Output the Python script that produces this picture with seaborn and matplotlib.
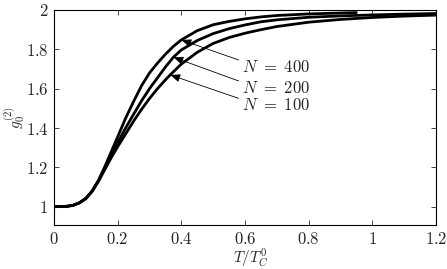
import numpy as np
import pandas as pd
import matplotlib
matplotlib.use('Agg')
import matplotlib.pyplot as plt
import seaborn as sns

# values
T_400 = [0.0, 0.04, 0.06, 0.08, 0.10, 0.12, 0.14, 0.16, 0.18, 0.20, 0.225, 0.25, 0.275,
         0.30, 0.325, 0.35, 0.375, 0.40, 0.45, 0.50, 0.55, 0.60, 0.65, 0.70, 0.80, 0.95]
g_400 = [1.0, 1.002, 1.007, 1.02, 1.042, 1.08, 1.135, 1.205, 1.28, 1.355, 1.45, 1.535, 1.615,
         1.68, 1.73, 1.775, 1.815, 1.848, 1.895, 1.925, 1.942, 1.955, 1.965, 1.972, 1.98, 1.987]

T_200 = [0.0, 0.04, 0.06, 0.08, 0.10, 0.12, 0.14, 0.16, 0.18, 0.20, 0.225, 0.25, 0.275,
         0.30, 0.325, 0.35, 0.375, 0.40, 0.45, 0.50, 0.55, 0.60, 0.65, 0.70, 0.80, 0.90,
         1.00, 1.10, 1.20]
g_200 = [1.0, 1.002, 1.007, 1.02, 1.042, 1.08, 1.133, 1.197, 1.262, 1.325, 1.40, 1.47, 1.538,
         1.60, 1.655, 1.71, 1.76, 1.797, 1.845, 1.88, 1.905, 1.924, 1.94, 1.95, 1.963, 1.97,
         1.975, 1.979, 1.982]

T_100 = [0.0, 0.04, 0.06, 0.08, 0.10, 0.12, 0.14, 0.16, 0.18, 0.20, 0.225, 0.25, 0.275,
         0.30, 0.325, 0.35, 0.365, 0.40, 0.45, 0.50, 0.55, 0.60, 0.65, 0.70, 0.80, 0.90,
         1.00, 1.10, 1.20]
g_100 = [1.0, 1.002, 1.007, 1.02, 1.041, 1.078, 1.13, 1.19, 1.25, 1.305, 1.37, 1.435, 1.495,
         1.55, 1.60, 1.645, 1.67, 1.725, 1.785, 1.83, 1.86, 1.882, 1.90, 1.916, 1.938, 1.952,
         1.962, 1.969, 1.974]

labels = [r'$N\ =\ 400$', r'$N\ =\ 200$', r'$N\ =\ 100$']
arrow_T = [0.40, 0.375, 0.365]
label_T = [0.59, 0.59, 0.59]
label_g = [1.71, 1.603, 1.515]

x_ticks = [0, 0.2, 0.4, 0.6, 0.8, 1, 1.2]
x_ticklabels = ['$0$', '$0.2$', '$0.4$', '$0.6$', '$0.8$', '$1$', '$1.2$']
y_ticks = [1, 1.2, 1.4, 1.6, 1.8, 2]
y_ticklabels = ['$1$', '$1.2$', '$1.4$', '$1.6$', '$1.8$', '$2$']

df = pd.concat([
    pd.DataFrame({'T': T_400, 'g': g_400, 'N': 400}),
    pd.DataFrame({'T': T_200, 'g': g_200, 'N': 200}),
    pd.DataFrame({'T': T_100, 'g': g_100, 'N': 100}),
])

sns.set_style('ticks')
plt.rcParams['font.family'] = ['DejaVu Serif']
plt.rcParams['mathtext.fontset'] = 'cm'
plt.rcParams['xtick.direction'] = 'in'
plt.rcParams['ytick.direction'] = 'in'

fig = plt.figure(figsize=(4.47, 2.69), dpi=100)
ax = fig.add_axes([54 / 447, 44 / 269, 382 / 447, 215 / 269])

sns.lineplot(data=df, x='T', y='g', hue='N', units='N', estimator=None,
             palette=['black'] * 3, linewidth=2.0, legend=False, ax=ax, sort=False)

curves = [(T_400, g_400), (T_200, g_200), (T_100, g_100)]
for (Ts, gs), lab, at, lx, ly in zip(curves, labels, arrow_T, label_T, label_g):
    ax.annotate(lab, xy=(at, np.interp(at, Ts, gs)), xytext=(lx, ly),
                fontsize=12, ha='left', va='center',
                arrowprops=dict(arrowstyle='-|>,head_length=0.5,head_width=0.2',
                                color='black', lw=0.6, relpos=(0, 0.85),
                                shrinkA=0, shrinkB=0))

ax.set_xlim(0, 1.2)
ax.set_ylim(0.907, 2)
ax.set_xticks(x_ticks)
ax.set_xticklabels(x_ticklabels)
ax.set_yticks(y_ticks)
ax.set_yticklabels(y_ticklabels)
ax.tick_params(top=True, right=True, length=3.5, width=0.6, labelsize=12)
ax.tick_params(axis='x', pad=4)
ax.tick_params(axis='y', pad=4)
for s in ax.spines.values():
    s.set_linewidth(0.8)
    s.set_color('black')
ax.set_xlabel(r'$T/T_C^0$', fontsize=11)
ax.set_ylabel(r'$g_0^{(2)}$', fontsize=11)
ax.xaxis.set_label_coords(0.515, -0.1)
ax.yaxis.set_label_coords(-0.07, 0.5)

fig.savefig('out.png', dpi=100)
